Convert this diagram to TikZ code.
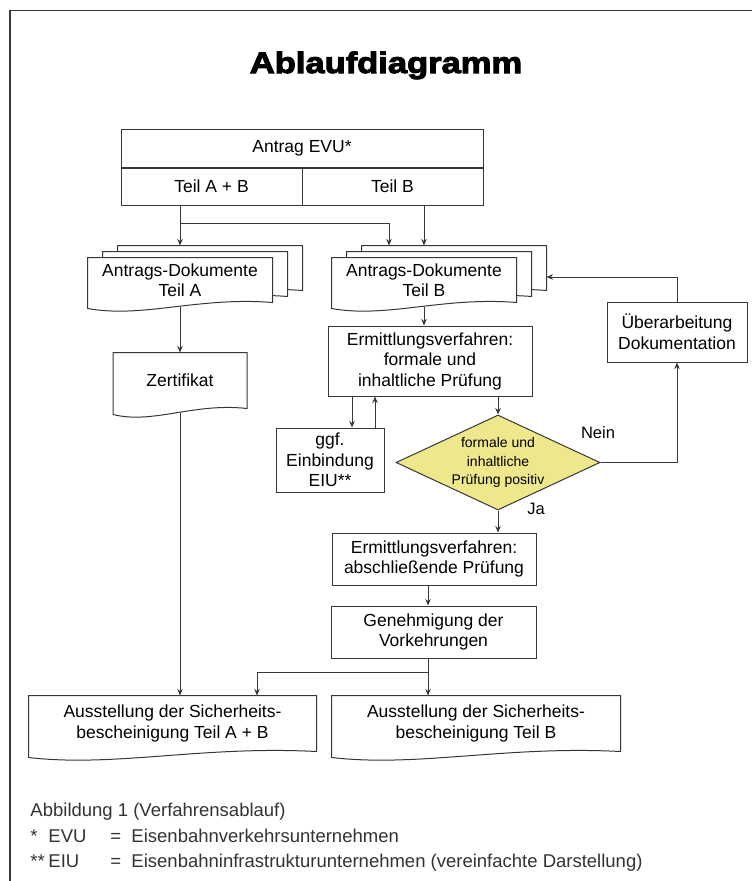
\documentclass[tikz,border=0pt]{standalone}
\usepackage{fontspec}
\setmainfont{Liberation Sans}
\newfontfamily\titlefont[FakeStretch=1.17,FakeBold=3.5]{Liberation Sans}
\usetikzlibrary{positioning,shapes.geometric,arrows.meta,calc,backgrounds}
\definecolor{rautengelb}{RGB}{238,231,140}
\definecolor{linie}{RGB}{55,55,55}
\newcommand{\diagfont}{\fontsize{17.5}{20.5}\selectfont}
\newcommand{\rautefont}{\fontsize{14}{18.5}\selectfont}
\newcommand{\fussfont}{\fontsize{18.5}{22}\selectfont}
% Umriss eines Dokuments (unten gewellt), #2/#3 = Versatz
\newcommand{\dokumentrand}[3]{%
  \draw[-,draw=linie,line width=1pt,fill=white]
    ($(#1.north west)+(#2,#3)$) -- ($(#1.north east)+(#2,#3)$) -- ($(#1.south east)+(#2,#3)$)
    .. controls ($(#1.south east)!.4!(#1.south west)+(#2,#3-6)$)
    and ($(#1.south east)!.7!(#1.south west)+(#2,#3+16)$) .. ($(#1.south west)+(#2,#3+6)$)
    -- cycle;}

\begin{document}
\begin{tikzpicture}[%
    x=1pt,y=-1pt,->,>={Stealth[length=6.5pt,width=5.5pt]},line width=1pt,draw=linie,
    kasten/.style={rectangle,draw=linie,line width=1pt,font=\diagfont,align=center,inner sep=2pt},
    dok/.style={rectangle,font=\diagfont,align=center,inner sep=2pt},
    raute/.style={diamond,draw=linie,line width=1pt,fill=rautengelb,font=\rautefont,align=center,
      aspect=2.15,inner sep=-1pt,minimum width=204pt,minimum height=95pt},
    fuss/.style={font=\fussfont,text=black!80,anchor=base west,inner sep=0pt}
  ]
    \useasboundingbox (0,0) rectangle (752,881);
    \draw[-,line width=1.3pt] (10,881) -- (10,10.5) -- (752,10.5);

    \node[font=\titlefont\bfseries\fontsize{29.5}{30}\selectfont,anchor=base] (titel) at (386,73) {Ablaufdiagramm};

    \node[kasten,minimum width=362pt,minimum height=38pt] (antrag) at (302,148) {Antrag EVU*};
    \node[kasten,minimum width=181pt,minimum height=37pt,anchor=north west] (teilab) at (antrag.south west) {Teil A + B};
    \node[kasten,minimum width=181pt,minimum height=37pt,anchor=north east] (teilb) at (antrag.south east) {Teil B};

    \node[dok,minimum width=184pt,minimum height=44pt] (dokA) at (180,280) {Antrags-Dokumente\\Teil A};
    \node[dok,minimum width=184pt,minimum height=44pt,right=59pt of dokA] (dokB) {Antrags-Dokumente\\Teil B};
    \node[dok,minimum width=133pt,minimum height=55pt,below=50pt of dokA] (zert) {Zertifikat};

    \node[kasten,minimum width=204pt,minimum height=70pt] (ermA) at (430,361) {Ermittlungsverfahren:\\formale und\\inhaltliche Prüfung};
    \node[kasten,minimum width=108pt,minimum height=64pt] (ggf) at (330,460) {ggf.\\Einbindung\\EIU**};
    \node[raute] (pruefung) at (498,462.5) {formale und\\inhaltliche\\Prüfung positiv};
    \node[font=\fontsize{16.5}{18}\selectfont] (nein) at (598,433) {Nein};
    \node[font=\fontsize{16.5}{18}\selectfont] (ja) at (536,509) {Ja};
    \node[kasten,minimum width=140pt,minimum height=60pt] (ueber) at (677,332) {Überarbeitung\\Dokumentation};

    \node[kasten,minimum width=204pt,minimum height=52pt] (ermB) at (434,559) {Ermittlungsverfahren:\\abschließende Prüfung};
    \node[kasten,minimum width=205pt,minimum height=52pt] (gen) at (433.5,632) {Genehmigung der\\Vorkehrungen};

    \node[dok,minimum width=287pt,minimum height=55pt] (ausAB) at (172.5,723.5) {Ausstellung der Sicherheits-\\bescheinigung Teil A + B};
    \node[dok,minimum width=288pt,minimum height=55pt] (ausB) at (476,723.5) {Ausstellung der Sicherheits-\\bescheinigung Teil B};

    \begin{scope}[on background layer]
      \foreach \d in {dokA,dokB}{
        \dokumentrand{\d}{30}{-12}
        \dokumentrand{\d}{15}{-6}
        \dokumentrand{\d}{0}{0}
      }
      \dokumentrand{zert}{0}{0}
      \dokumentrand{ausAB}{0}{0}
      \dokumentrand{ausB}{0}{0}
    \end{scope}

    % Verbindungen
    \draw (teilab.south -| dokA.north) -- ($(dokA.north)+(0,-12)$);
    \draw ($(teilab.south -| dokA.north)+(0,18)$) -| ($(dokB.north)+(-35,-12)$);
    \draw (teilb.south -| dokB.north) -- ($(dokB.north)+(0,-12)$);
    \draw ($(dokA.south)+(0,4)$) -- (zert);
    \draw ($(zert.south)+(0,4)$) -- (zert.south |- ausAB.north);
    \draw ($(dokB.south)+(0,4)$) -- (dokB.south |- ermA.north);
    \draw ([xshift=22pt]ggf.north |- ermA.south) -- ([xshift=22pt]ggf.north);
    \draw ([xshift=45pt]ggf.north) -- ([xshift=45pt]ggf.north |- ermA.south);
    \draw (pruefung.north |- ermA.south) -- (pruefung.north);
    \draw (pruefung.east) -| (ueber.south);
    \draw (ueber.north) |- ($(dokB.east)+(30,-3)$);
    \draw (pruefung.south) -- (pruefung.south |- ermB.north);
    \draw ([xshift=-6pt]ermB.south) -- ([xshift=-6pt]ermB.south |- gen.north);
    \draw ([xshift=-5.5pt]gen.south) -- ([xshift=-5.5pt]gen.south |- ausB.north);
    \draw ([xshift=-5.5pt]gen.south) -- +(0,14) -| ([xshift=84.5pt]ausAB.north);

    \node[fuss] (abb) at (30,816) {Abbildung 1 (Verfahrensablauf)};
    \node[fuss] (evu) at (30,842) {\makebox[18pt][l]{*}\makebox[62pt][l]{EVU}\makebox[21pt][l]{=}Eisenbahnverkehrsunternehmen};
    \node[fuss] (eiu) at (30,867) {\makebox[18pt][l]{**}\makebox[62pt][l]{EIU}\makebox[21pt][l]{=}Eisenbahninfrastrukturunternehmen (vereinfachte Darstellung)};
\end{tikzpicture}
\end{document}
